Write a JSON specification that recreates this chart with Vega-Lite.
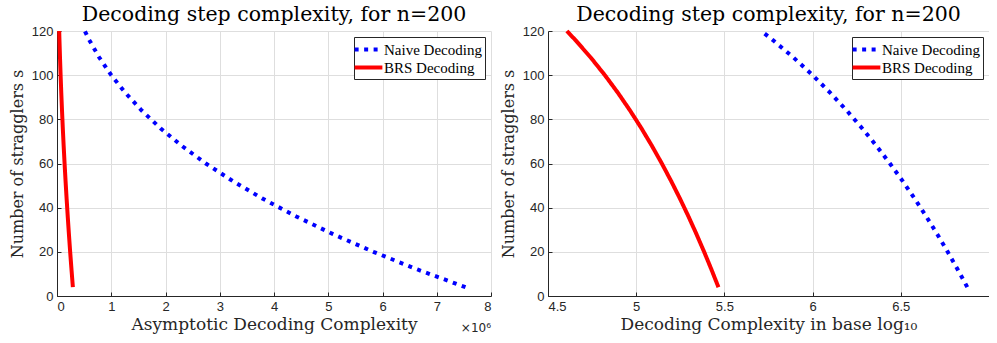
{
  "$schema": "https://vega.github.io/schema/vega-lite/v6.json",
  "background": "white",
  "padding": {"left": 9, "top": 4, "right": 0, "bottom": 0},
  "data": {"values": [
    {"s": 4, "method": "Naive Decoding", "c": 7.5295, "lg": 6.8768},
    {"s": 12, "method": "Naive Decoding", "c": 6.6447, "lg": 6.8225},
    {"s": 20, "method": "Naive Decoding", "c": 5.832, "lg": 6.7658},
    {"s": 28, "method": "Naive Decoding", "c": 5.0884, "lg": 6.7066},
    {"s": 36, "method": "Naive Decoding", "c": 4.4109, "lg": 6.6445},
    {"s": 44, "method": "Naive Decoding", "c": 3.7964, "lg": 6.5794},
    {"s": 52, "method": "Naive Decoding", "c": 3.2418, "lg": 6.5108},
    {"s": 60, "method": "Naive Decoding", "c": 2.744, "lg": 6.4384},
    {"s": 68, "method": "Naive Decoding", "c": 2.3, "lg": 6.3617},
    {"s": 76, "method": "Naive Decoding", "c": 1.9066, "lg": 6.2803},
    {"s": 84, "method": "Naive Decoding", "c": 1.5609, "lg": 6.1934},
    {"s": 92, "method": "Naive Decoding", "c": 1.2597, "lg": 6.1003},
    {"s": 100, "method": "Naive Decoding", "c": 1.0, "lg": 6.0},
    {"s": 108, "method": "Naive Decoding", "c": 0.7787, "lg": 5.8914},
    {"s": 116, "method": "Naive Decoding", "c": 0.5927, "lg": 5.7728},
    {"s": 120, "method": "Naive Decoding", "c": 0.512, "lg": 5.7093},
    {"s": 4, "method": "BRS Decoding", "c": 0.2925, "lg": 5.4662},
    {"s": 12, "method": "BRS Decoding", "c": 0.267, "lg": 5.4265},
    {"s": 20, "method": "BRS Decoding", "c": 0.2427, "lg": 5.3851},
    {"s": 28, "method": "BRS Decoding", "c": 0.2197, "lg": 5.3418},
    {"s": 36, "method": "BRS Decoding", "c": 0.1979, "lg": 5.2964},
    {"s": 44, "method": "BRS Decoding", "c": 0.1773, "lg": 5.2487},
    {"s": 52, "method": "BRS Decoding", "c": 0.1579, "lg": 5.1984},
    {"s": 60, "method": "BRS Decoding", "c": 0.1397, "lg": 5.1453},
    {"s": 68, "method": "BRS Decoding", "c": 0.1227, "lg": 5.089},
    {"s": 76, "method": "BRS Decoding", "c": 0.1069, "lg": 5.0291},
    {"s": 84, "method": "BRS Decoding", "c": 0.0923, "lg": 4.9651},
    {"s": 92, "method": "BRS Decoding", "c": 0.0788, "lg": 4.8965},
    {"s": 100, "method": "BRS Decoding", "c": 0.0664, "lg": 4.8224},
    {"s": 108, "method": "BRS Decoding", "c": 0.0552, "lg": 4.7421},
    {"s": 116, "method": "BRS Decoding", "c": 0.0451, "lg": 4.6542},
    {"s": 120, "method": "BRS Decoding", "c": 0.0405, "lg": 4.607}
  ]},
  "config": {
    "view": {"stroke": null},
    "font": "Liberation Sans",
    "axis": {
      "labelFont": "Liberation Sans",
      "labelFontSize": 13,
      "labelColor": "#262626",
      "titleFont": "DejaVu Serif",
      "titleFontSize": 17,
      "titleFontWeight": "normal",
      "titleColor": "#262626",
      "domainColor": "#262626",
      "tickColor": "#262626",
      "gridColor": "#dedede",
      "grid": true,
      "tickSize": -4,
      "labelPadding": 8
    },
    "title": {"font": "DejaVu Serif", "fontSize": 20.5, "fontWeight": "normal", "color": "#000000", "offset": -2},
    "legend": {
      "orient": "top-right",
      "offset": 6,
      "strokeColor": "#262626",
      "fillColor": "white",
      "padding": 3,
      "labelFont": "Liberation Serif",
      "labelFontSize": 15,
      "labelColor": "#000000",
      "symbolType": "M-1.85,0H1.85",
      "symbolStrokeWidth": 4,
      "symbolSize": 225,
      "symbolOffset": 2,
      "rowPadding": -3,
      "labelOffset": 6,
      "title": null
    }
  },
  "spacing": 8,
  "hconcat": [
    {
      "width": 434,
      "height": 265,
      "title": "Decoding step complexity, for n=200",
      "layer": [
        {
          "mark": {"type": "line", "strokeWidth": 4, "strokeCap": "butt"},
          "encoding": {
            "x": {"field": "c", "type": "quantitative", "scale": {"domain": [0, 8], "nice": false}, "axis": {"values": [0, 1, 2, 3, 4, 5, 6, 7, 8], "title": "Asymptotic Decoding Complexity", "titlePadding": 3}},
            "y": {"field": "s", "type": "quantitative", "scale": {"domain": [0, 120], "nice": false}, "axis": {"values": [0, 20, 40, 60, 80, 100, 120], "title": "Number of stragglers s", "titlePadding": 6, "titleFontSize": 16}},
            "color": {"field": "method", "type": "nominal", "scale": {"domain": ["Naive Decoding", "BRS Decoding"], "range": ["#0000ff", "#ff0000"]}, "legend": {"title": null}},
            "strokeDash": {"field": "method", "type": "nominal", "scale": {"domain": ["Naive Decoding", "BRS Decoding"], "range": [[4, 5.5], [1, 0]]}, "legend": {"title": null}},
            "order": {"field": "s", "type": "quantitative"}
          }
        },
        {
          "data": {"values": [{"label": "×10⁶"}]},
          "mark": {"type": "text", "align": "right", "baseline": "middle", "dy": 32, "dx": 0, "fontSize": 12, "font": "DejaVu Sans", "color": "#262626"},
          "encoding": {
            "x": {"datum": 8},
            "y": {"datum": 0},
            "text": {"field": "label"}
          }
        }
      ]
    },
    {
      "width": 441,
      "height": 265,
      "title": "Decoding step complexity, for n=200",
      "mark": {"type": "line", "strokeWidth": 4, "strokeCap": "butt"},
      "encoding": {
        "x": {"field": "lg", "type": "quantitative", "scale": {"domain": [4.5, 7], "nice": false, "zero": false}, "axis": {"values": [4.5, 5, 5.5, 6, 6.5], "format": "~g", "title": "Decoding Complexity in base log₁₀", "titlePadding": 3}},
        "y": {"field": "s", "type": "quantitative", "scale": {"domain": [0, 120], "nice": false}, "axis": {"values": [0, 20, 40, 60, 80, 100, 120], "title": "Number of stragglers s", "titlePadding": 6, "titleFontSize": 16}},
        "color": {"field": "method", "type": "nominal", "scale": {"domain": ["Naive Decoding", "BRS Decoding"], "range": ["#0000ff", "#ff0000"]}, "legend": {"title": null}},
        "strokeDash": {"field": "method", "type": "nominal", "scale": {"domain": ["Naive Decoding", "BRS Decoding"], "range": [[4, 5.5], [1, 0]]}, "legend": {"title": null}},
        "order": {"field": "s", "type": "quantitative"}
      }
    }
  ],
  "resolve": {"scale": {"x": "independent"}, "legend": {"color": "independent", "strokeDash": "independent"}}
}
